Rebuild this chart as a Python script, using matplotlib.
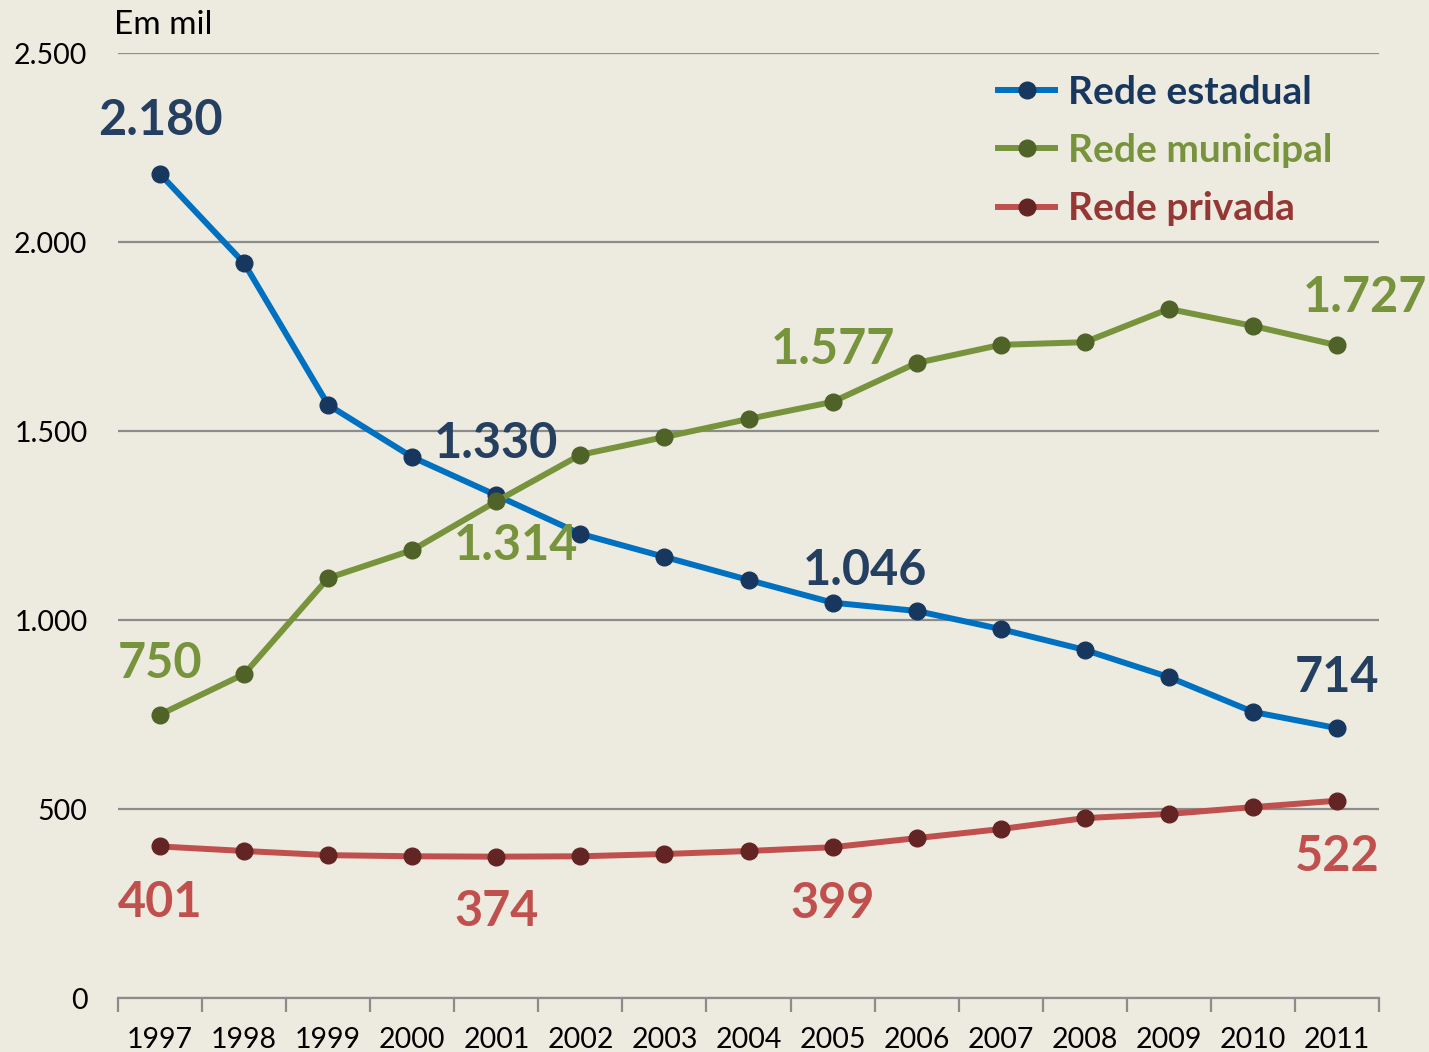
import matplotlib.pyplot as plt
import numpy as np
from matplotlib.ticker import FuncFormatter

plt.rcParams['font.family'] = ['Lato', 'DejaVu Sans']

years = list(range(1997, 2012))
estadual = [2180, 1944, 1569, 1431, 1330, 1228, 1167, 1106, 1046, 1024, 976, 921, 849, 757, 714]
municipal = [750, 857, 1111, 1185, 1314, 1437, 1484, 1532, 1577, 1680, 1728, 1735, 1823, 1778, 1727]
privada = [401, 389, 378, 375, 374, 375, 381, 389, 399, 423, 447, 476, 487, 505, 522]

bg = '#EDEAE0'
fig = plt.figure(figsize=(14.29, 10.52), dpi=100, facecolor=bg)
ax = fig.add_axes([0.0826, 0.0513, 0.8824, 0.8983], facecolor=bg)

series = [
    ('Rede estadual', estadual, '#0070C0', '#17375E', '#17375E', '#243F60'),
    ('Rede municipal', municipal, '#77933C', '#4F6228', '#77933C', '#77933C'),
    ('Rede privada', privada, '#C0504D', '#632523', '#953735', '#C0504D'),
]
for name, vals, lc, mc, tc, lab in series:
    ax.plot(years, vals, color=lc, lw=4.3, marker='o', ms=12,
            mfc=mc, mec=mc, label=name, zorder=3)

def fmt(v):
    return '{:,}'.format(v).replace(',', '.')

# (serie, index, dx, dy) offsets in pixels
labels = [
    (0, 0, 0, 53), (0, 4, 0, 52), (0, 8, 32, 32), (0, 14, 0, 51),
    (1, 0, 0, 51), (1, 4, 20, -44), (1, 8, 0, 52), (1, 14, 28, 48),
    (2, 0, 0, -56), (2, 4, 0, -55), (2, 8, 0, -56), (2, 14, 0, -56),
]
for si, i, dx, dy in labels:
    vals = series[si][1]
    ax.annotate(fmt(vals[i]), (years[i], vals[i]), xytext=(dx, dy),
                textcoords='offset pixels', ha='center', va='center',
                fontsize=35, fontweight='bold', color=series[si][5],
                annotation_clip=False, zorder=4)

ax.set_xlim(1996.5, 2011.5)
ax.set_ylim(0, 2500)
ax.set_yticks([0, 500, 1000, 1500, 2000, 2500])
ax.yaxis.set_major_formatter(FuncFormatter(lambda v, p: fmt(int(v))))
ax.grid(axis='y', color='#8C8C8C', lw=1.6, zorder=1)
ax.tick_params(axis='y', length=0, pad=22, labelsize=20.5)
ax.set_xticks(years)
ax.set_xticks(np.arange(1996.5, 2012, 1), minor=True)
ax.tick_params(axis='x', which='major', length=0, pad=21, labelsize=20.5)
ax.tick_params(axis='x', which='minor', length=10, width=1.6, color='#8C8C8C')
for s in ['top', 'right', 'left']:
    ax.spines[s].set_visible(False)
ax.spines['bottom'].set_color('#8C8C8C')
ax.spines['bottom'].set_linewidth(1.6)

ax.text(-0.003, 1.0 + 28 / 945, 'Em mil', transform=ax.transAxes,
        fontsize=24, va='center', ha='left')

leg = ax.legend(loc='upper left', bbox_to_anchor=(0.698, 0.977), frameon=False,
                fontsize=28, handlelength=1.47, handletextpad=0.33, labelspacing=0.60,
                borderpad=0, borderaxespad=0,
                labelcolor=[s[4] for s in series])
for t in leg.get_texts():
    t.set_fontweight('bold')

fig.savefig('out.png', dpi=100, facecolor=bg)
